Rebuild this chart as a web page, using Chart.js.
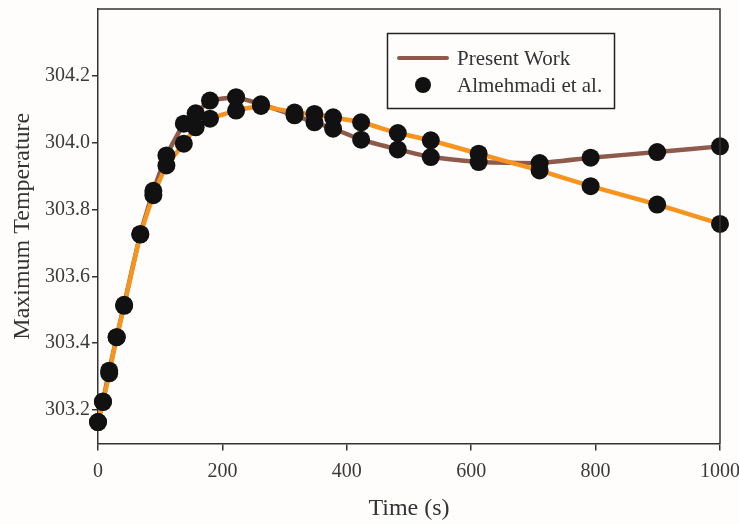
<!DOCTYPE html>
<html>
<head>
<meta charset="utf-8">
<script src="https://cdn.jsdelivr.net/npm/chart.js@4"></script>
<style>
  body { margin: 0; background: #fefdfc; }
  canvas { display: block; }
</style>
</head>
<body>
<canvas id="my-chart" width="739" height="524"></canvas>
<script>
// temps (s) communs aux deux courbes
const times = [0, 8, 18, 30, 42, 68, 89, 110, 138, 157, 180, 222, 262, 316, 348, 378, 423, 482, 535, 612, 710, 792, 899, 1000];

// Present Work (courbe marron)
const presentWork = [303.164, 303.226, 303.318, 303.418, 303.515, 303.727, 303.856, 303.962, 304.057, 304.088, 304.126, 304.136, 304.115,
  304.082, 304.061, 304.042, 304.009, 303.980, 303.957, 303.942, 303.939, 303.955, 303.972, 303.989];

// Almehmadi et al. (courbe orange)
const almehmadi = [303.164, 303.224, 303.310, 303.418, 303.512, 303.725, 303.843, 303.932, 303.997, 304.046, 304.072, 304.096, 304.110,
  304.090, 304.086, 304.076, 304.061, 304.029, 304.007, 303.967, 303.917, 303.870, 303.815, 303.757];

const yTicks = [303.2, 303.4, 303.6, 303.8, 304.0, 304.2];
const xTicks = [0, 200, 400, 600, 800, 1000];

const serif = '"Liberation Serif", "Times New Roman", serif';
const brown = '#8d5a4b';
const orange = '#f7941d';
const dark = '#333333';

function toPoints(values) {
    return times.map((t, i) => ({ x: t, y: values[i] }));
}

// cadre + légende dessinés après le graphique
const framePlugin = {
    id: 'frame',
    afterDraw(chart) {
        const ctx = chart.ctx;
        const a = chart.chartArea;
        ctx.save();
        ctx.strokeStyle = dark;
        ctx.lineWidth = 1.5;
        ctx.beginPath();
        ctx.moveTo(a.left, a.top);
        ctx.lineTo(a.right, a.top);
        ctx.lineTo(a.right, a.bottom);
        ctx.stroke();

        // légende
        ctx.fillStyle = '#fefdfc';
        ctx.fillRect(387, 33, 228, 75);
        ctx.strokeStyle = '#222';
        ctx.lineWidth = 1.5;
        ctx.strokeRect(387.5, 33.5, 227, 75);

        ctx.strokeStyle = brown;
        ctx.lineWidth = 4;
        ctx.lineCap = 'round';
        ctx.beginPath();
        ctx.moveTo(399, 58);
        ctx.lineTo(447, 58);
        ctx.stroke();

        ctx.fillStyle = '#111';
        ctx.beginPath();
        ctx.arc(423, 85, 8, 0, Math.PI * 2);
        ctx.fill();

        ctx.fillStyle = dark;
        ctx.font = '21px ' + serif;
        ctx.textBaseline = 'middle';
        ctx.fillText('Present Work', 457, 59);
        ctx.fillText('Almehmadi et al.', 457, 86);
        ctx.restore();
    }
};

const myChart = new Chart(document.querySelector('#my-chart'), {
    type: 'line',
    data: {
        datasets: [
            {
                label: 'Present Work points',
                data: toPoints(presentWork),
                showLine: false,
                pointRadius: 9,
                pointBackgroundColor: '#111',
                pointBorderWidth: 0,
                order: 1,
                clip: false
            },
            {
                label: 'Almehmadi points',
                data: toPoints(almehmadi),
                showLine: false,
                pointRadius: 9,
                pointBackgroundColor: '#111',
                pointBorderWidth: 0,
                order: 2,
                clip: false
            },
            {
                label: 'Almehmadi et al.',
                data: toPoints(almehmadi),
                borderColor: orange,
                borderWidth: 4.5,
                pointRadius: 0,
                tension: 0.1,
                order: 3,
                clip: false
            },
            {
                label: 'Present Work',
                data: toPoints(presentWork),
                borderColor: brown,
                borderWidth: 4.5,
                pointRadius: 0,
                tension: 0.1,
                order: 4,
                clip: false
            }
        ]
    },
    options: {
        responsive: false,
        animation: false,
        layout: { padding: { top: 8, right: 19, bottom: 0, left: 0 } },
        plugins: {
            legend: { display: false },
            tooltip: { enabled: false }
        },
        scales: {
            x: {
                type: 'linear',
                min: 0,
                max: 1000,
                afterBuildTicks: (scale) => { scale.ticks = xTicks.map(v => ({ value: v })); },
                afterFit: (scale) => { scale.height = 80.5; scale.paddingLeft = 0; scale.paddingRight = 0; },
                grid: { drawOnChartArea: false, drawTicks: true, tickLength: 7, color: dark, lineWidth: 1.5 },
                border: { display: true, color: dark, width: 1.5 },
                ticks: { color: '#3a3a3a', font: { family: serif, size: 20 }, padding: 9, maxRotation: 0, callback: (v) => String(v) },
                title: { display: true, text: 'Time (s)', color: dark, font: { family: serif, size: 24 }, padding: { top: 0, bottom: 1 } }
            },
            y: {
                type: 'linear',
                min: 303.1,
                max: 304.4,
                afterBuildTicks: (scale) => { scale.ticks = yTicks.map(v => ({ value: v })); },
                afterFit: (scale) => { scale.width = 98; scale.paddingTop = 0; scale.paddingBottom = 0; },
                grid: { drawOnChartArea: false, drawTicks: true, tickLength: 6, color: dark, lineWidth: 1.5 },
                border: { display: true, color: dark, width: 1.5 },
                ticks: { color: '#3a3a3a', font: { family: serif, size: 20 }, padding: 2, callback: (v) => v.toFixed(1) },
                title: { display: true, text: 'Maximum Temperature', color: dark, font: { family: serif, size: 24 }, padding: { top: 8, bottom: 0 } }
            }
        }
    },
    plugins: [framePlugin]
});
</script>
</body>
</html>
